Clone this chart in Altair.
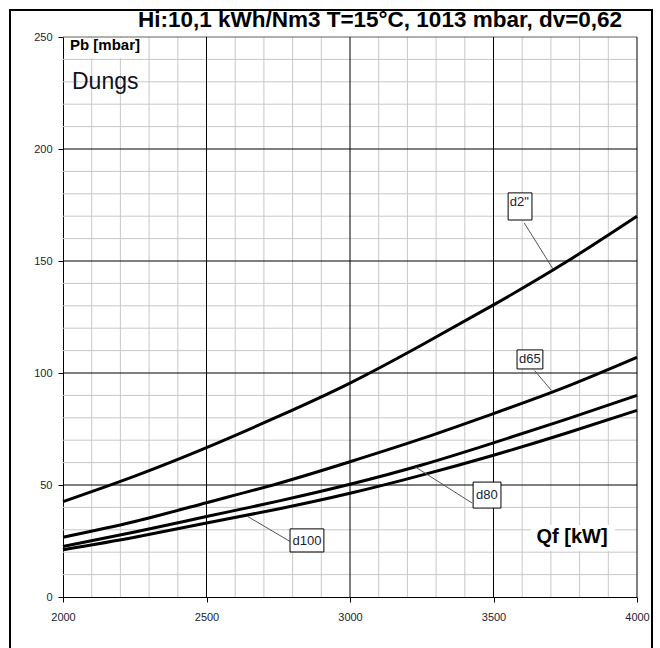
import altair as alt
import pandas as pd

# ---- data ----
qf = [2000, 2250, 2500, 2750, 3000, 3250, 3500, 3750, 4000]
pb_d2 = [42.6, 54.0, 66.7, 80.6, 95.5, 112.5, 130.4, 149.3, 170.0]
pb_d65 = [26.7, 33.7, 42.1, 50.7, 60.4, 70.7, 81.9, 93.7, 107.0]
pb_d80 = [22.6, 29.0, 35.9, 42.8, 50.3, 58.9, 68.8, 79.2, 90.0]
pb_d100 = [21.1, 26.7, 33.0, 39.3, 46.3, 54.4, 63.3, 73.0, 83.3]
series_names = ['d2"', "d65", "d80", "d100"]

x_ticks = [2000, 2500, 3000, 3500, 4000]
y_ticks = [0, 50, 100, 150, 200, 250]

# label annotation placement (data units)
lab_text_x = [3590, 3627, 3477, 2850]
lab_text_y = [176.5, 106.3, 45.5, 25.0]
box_x1 = [3551, 3582, 3429, 2791]
box_x2 = [3634, 3672, 3526, 2909]
box_y1 = [168.3, 101.8, 39.7, 20.1]
box_y2 = [180.4, 110.3, 51.3, 30.4]
lead_x1 = [3607, 3643, 3426, 2791]
lead_y1 = [167.0, 101.1, 41.9, 24.8]
lead_x2 = [3708, 3702, 3227, 2644]
lead_y2 = [146.3, 92.2, 58.1, 35.9]

title_text = "Hi:10,1 kWh/Nm3 T=15°C, 1013 mbar, dv=0,62"

# ---- tables ----
rows = []
for name, vals in zip(series_names, [pb_d2, pb_d65, pb_d80, pb_d100]):
    for q, p in zip(qf, vals):
        rows.append({"series": name, "Qf": q, "Pb": p})
curves = pd.DataFrame(rows)

labels = pd.DataFrame({
    "name": series_names, "tx": lab_text_x, "ty": lab_text_y,
    "bx1": box_x1, "bx2": box_x2, "by1": box_y1, "by2": box_y2,
    "lx1": lead_x1, "ly1": lead_y1, "lx2": lead_x2, "ly2": lead_y2,
})

x_minor = pd.DataFrame({"v": [v for v in range(2000, 4001, 100) if v % 500]})
y_minor = pd.DataFrame({"v": [v for v in range(0, 251, 10) if v % 50]})
x_major = pd.DataFrame({"v": [v for v in range(2500, 4001, 500)]})
y_major = pd.DataFrame({"v": [50, 100, 150, 200]})
y_top = pd.DataFrame({"v": [250]})
one = pd.DataFrame({"a": [0]})

xs = alt.Scale(domain=[2000, 4000], nice=False, zero=False)
ys = alt.Scale(domain=[0, 250], nice=False, zero=True)

FONT = "Liberation Sans"

minor_x = alt.Chart(x_minor).mark_rule(color="#c8c8c8", strokeWidth=1).encode(
    x=alt.X("v:Q", scale=xs))
minor_y = alt.Chart(y_minor).mark_rule(color="#c8c8c8", strokeWidth=1).encode(
    y=alt.Y("v:Q", scale=ys))
major_x = alt.Chart(x_major).mark_rule(color="#000000", strokeWidth=1).encode(
    x=alt.X("v:Q", scale=xs))
major_y = alt.Chart(y_major).mark_rule(color="#000000", strokeWidth=1).encode(
    y=alt.Y("v:Q", scale=ys))
top_y = alt.Chart(y_top).mark_rule(color="#606060", strokeWidth=1).encode(
    y=alt.Y("v:Q", scale=ys))

# white backgrounds behind the axis captions
pb_bg = alt.Chart(one).mark_rect(color="white").encode(
    x=alt.value(1), x2=alt.value(76), y=alt.value(1), y2=alt.value(21))
qf_bg = alt.Chart(one).mark_rect(color="white").encode(
    x=alt.value(468), x2=alt.value(552), y=alt.value(488), y2=alt.value(514))

lines = alt.Chart(curves).mark_line(color="black", strokeWidth=3, interpolate="natural").encode(
    x=alt.X("Qf:Q", scale=xs,
            axis=alt.Axis(values=x_ticks, title=None, grid=False, tickSize=5, format="d",
                          tickColor="black", domainColor="black", labelPadding=9,
                          labelFont=FONT, labelFontSize=11, labelColor="#222233",
                          labelFlush=False)),
    y=alt.Y("Pb:Q", scale=ys,
            axis=alt.Axis(values=y_ticks, title=None, grid=False, tickSize=5, format="d",
                          tickColor="black", domainColor="black", labelPadding=6,
                          labelFont=FONT, labelFontSize=11, labelColor="#222233",
                          labelFlush=False)),
    detail="series:N",
)

leaders = alt.Chart(labels).mark_rule(color="#555555", strokeWidth=1).encode(
    x=alt.X("lx1:Q", scale=xs), y=alt.Y("ly1:Q", scale=ys),
    x2="lx2:Q", y2="ly2:Q")
boxes = alt.Chart(labels).mark_rect(fill="white", stroke="black", strokeWidth=1).encode(
    x=alt.X("bx1:Q", scale=xs), x2="bx2:Q",
    y=alt.Y("by1:Q", scale=ys), y2="by2:Q")
box_text = alt.Chart(labels).mark_text(font=FONT, fontSize=13, color="#1a1a33",
                                       align="center", baseline="middle").encode(
    x=alt.X("tx:Q", scale=xs), y=alt.Y("ty:Q", scale=ys), text="name:N")

title = alt.Chart(one).mark_text(text=title_text, font=FONT, fontSize=22.5, fontWeight="bold",
                                 color="black", align="center", baseline="middle").encode(
    x=alt.value(317), y=alt.value(-17))
pb_label = alt.Chart(one).mark_text(text="Pb [mbar]", font=FONT, fontSize=15, fontWeight="bold",
                                    color="black", align="left", baseline="middle").encode(
    x=alt.value(7), y=alt.value(8))
dungs = alt.Chart(one).mark_text(text="Dungs", font=FONT, fontSize=23,
                                 color="#111122", align="left", baseline="middle").encode(
    x=alt.value(9), y=alt.value(45))
qf_label = alt.Chart(one).mark_text(text="Qf [kW]", font=FONT, fontSize=20, fontWeight="bold",
                                    color="black", align="center", baseline="middle").encode(
    x=alt.value(509), y=alt.value(500))

frame = alt.Chart(one).mark_rect(fillOpacity=0, stroke="black", strokeWidth=2, clip=False).encode(
    x=alt.value(-53), x2=alt.value(589), y=alt.value(-27), y2=alt.value(640))

chart = alt.layer(
    minor_x, minor_y, top_y, major_x, major_y, pb_bg, qf_bg,
    lines, leaders, boxes, box_text, title, pb_label, dungs, qf_label, frame,
).properties(
    width=574, height=560,
    autosize=alt.AutoSizeParams(type="none"),
    padding={"left": 63, "top": 37, "right": 23, "bottom": 51},
    background="white",
).configure_view(stroke=None)

chart.save("out.html", embed_options={"renderer": "svg", "actions": False})
